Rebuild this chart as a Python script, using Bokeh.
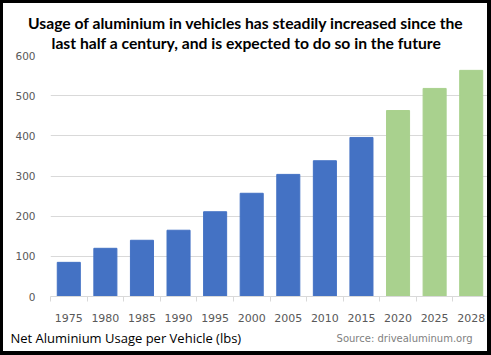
from bokeh.plotting import figure
from bokeh.models import Range1d, FixedTicker, LinearAxis, ColumnDataSource, Grid, Title
from bokeh.embed import file_html
from bokeh.resources import INLINE

years = ["1975", "1980", "1985", "1990", "1995", "2000", "2005", "2010", "2015", "2020", "2025", "2028"]
usage = [85, 120, 140, 165, 211, 257, 304, 338, 396, 463, 518, 563]
kind = ["actual"] * 9 + ["projected"] * 3
y_ticks = [0, 100, 200, 300, 400, 500, 600]
title_lines = ["Usage of aluminium in vehicles has steadily increased since the",
               "last half a century, and is expected to do so in the future"]
axis_text = "Net Aluminium Usage per Vehicle (lbs)"
source_text = "Source: drivealuminum.org"

palette = {"actual": "#4472C4", "projected": "#A9D18E"}

W, H = 491, 355
p = figure(width=W, height=H, output_backend="svg", toolbar_location=None,
           x_range=Range1d(0, 12), y_range=Range1d(0, 600),
           x_axis_type=None, y_axis_type=None, title=None,
           min_border_left=47, min_border_right=5, min_border_top=52, min_border_bottom=62)
p.styles = {"border-style": "solid", "border-color": "black", "border-width": "3px 4px 4px 3px"}
p.outline_line_color = None
p.background_fill_color = "white"
p.border_fill_color = "white"

title_style = dict(align="left", text_font="Lato", text_font_style="bold",
                   text_font_size="15.7px", text_color="black")
# inner line first (closest to the frame), then the outer line
p.add_layout(Title(text=title_lines[1], offset=1, standoff=7, **title_style), "above")
p.add_layout(Title(text=title_lines[0], offset=-22.5, standoff=-6, **title_style), "above")

xs = [i + 0.5 for i in range(len(years))]
src = ColumnDataSource(dict(x=xs, top=usage, color=[palette[k] for k in kind]))
p.vbar(x="x", top="top", width=0.63, color="color", source=src)

yax = LinearAxis(ticker=FixedTicker(ticks=y_ticks))
yax.axis_line_color = None
yax.major_tick_line_color = None
yax.major_tick_out = 0
yax.major_tick_in = 0
yax.minor_tick_line_color = None
yax.major_label_standoff = 15
yax.major_label_text_font = "DejaVu Sans"
yax.major_label_text_font_size = "10.5px"
yax.major_label_text_color = "#595959"
p.add_layout(yax, "left")

xax = LinearAxis(ticker=FixedTicker(ticks=xs, minor_ticks=list(range(len(years) + 1))))
xax.major_label_overrides = {x: y for x, y in zip(xs, years)}
xax.axis_line_color = "#D9D9D9"
xax.major_tick_line_color = None
xax.minor_tick_line_color = "#D9D9D9"
xax.minor_tick_in = 0
xax.minor_tick_out = 5
xax.major_label_standoff = 11
xax.major_label_text_font = "DejaVu Sans"
xax.major_label_text_font_size = "11px"
xax.major_label_text_color = "#595959"
p.add_layout(xax, "below")

p.add_layout(Grid(dimension=1, ticker=yax.ticker, grid_line_color="#D9D9D9"))

p.add_layout(Title(text=axis_text, align="left", offset=-40, standoff=4,
                   text_font="Open Sans", text_font_style="normal", text_font_size="13px",
                   text_color="black"), "below")
p.add_layout(Title(text=source_text, align="right", vertical_align="top", offset=17, standoff=-32,
                   text_font="DejaVu Sans", text_font_style="normal", text_font_size="10px",
                   text_color="#7F7F7F"), "below")

open("out.html", "w").write(file_html(p, INLINE))
